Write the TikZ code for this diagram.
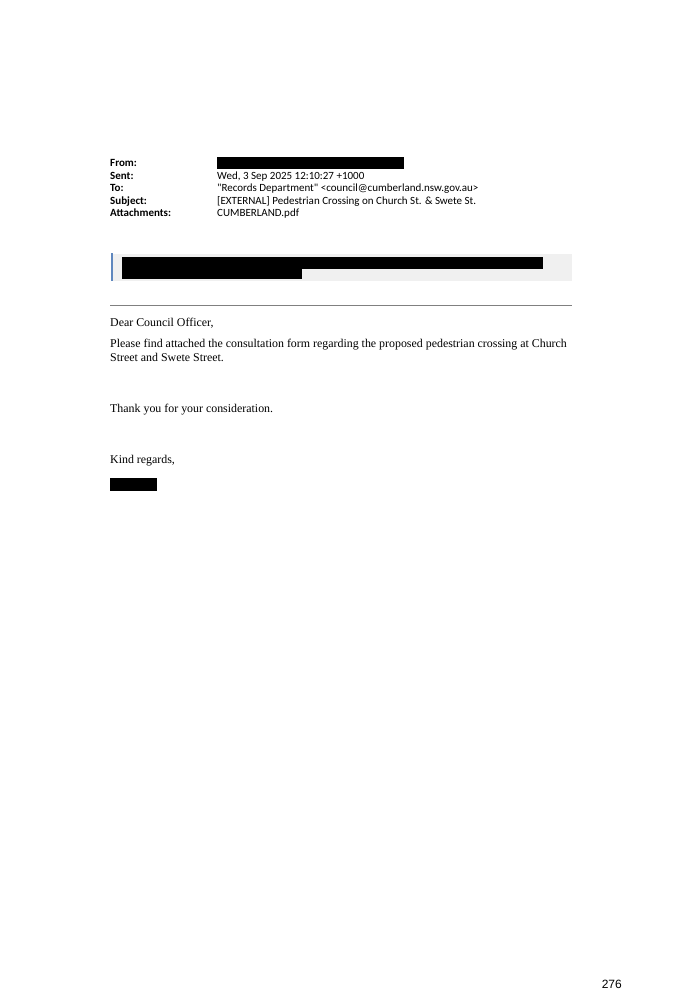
\documentclass[tikz,border=0pt]{standalone}
\usepackage{fontspec}
\setmainfont{Liberation Serif}
\newfontfamily\hdrfont{Carlito}
\newfontfamily\pgfont{Liberation Sans}
\definecolor{quotebar}{RGB}{95,135,190}
\begin{document}
\begin{tikzpicture}[x=1pt,y=-1pt,
    hdr/.style={anchor=base west,inner sep=0pt,font=\hdrfont\fontsize{11}{12}\selectfont},
    hdrkey/.style={hdr,font=\hdrfont\bfseries\fontsize{11}{12}\selectfont},
    body/.style={anchor=base west,inner sep=0pt,font=\fontsize{11.9}{14}\selectfont},
    redact/.style={fill=black}]
  \useasboundingbox (0,0) rectangle (682,989);
  % header
  \node[hdrkey] (from) at (110,166) {From:};
  \node[hdrkey] (sent) at (110,179) {Sent:};
  \node[hdrkey] (to) at (110,191.5) {To:};
  \node[hdrkey] (subj) at (110,204) {Subject:};
  \node[hdrkey] (att) at (110,216.5) {Attachments:};
  \fill[redact] (217,157) rectangle (404,169);
  \node[hdr] (sentval) at (217,179) {Wed, 3 Sep 2025 12:10:27 +1000};
  \node[hdr] (toval) at (217,191.5) {"Records Department" <council@cumberland.nsw.gov.au>};
  \node[hdr] (subjval) at (217,204) {[EXTERNAL] Pedestrian Crossing on Church St. \& Swete St.};
  \node[hdr] (attval) at (217,216.5) {CUMBERLAND.pdf};
  % banner
  \fill[black!6] (113,254) rectangle (572,281);
  \fill[quotebar] (110.5,253) rectangle (113,281);
  \fill[redact] (122,257) rectangle (543,269);
  \fill[redact] (122,268) rectangle (302,279);
  \draw[gray,line width=0.7pt] (110,305.5) -- (572,305.5);
  % body
  \node[body] (dear) at (110,326) {Dear Council Officer,};
  \node[body] (para1) at (110,347) {Please find attached the consultation form regarding the proposed pedestrian crossing at Church};
  \node[body] (para2) at (110,361) {Street and Swete Street.};
  \node[body] (thanks) at (110,412) {Thank you for your consideration.};
  \node[body] (regards) at (110,463) {Kind regards,};
  \fill[redact] (110,478) rectangle (157,491);
  \node[anchor=base east,inner sep=0pt,font=\pgfont\fontsize{12}{14}\selectfont] (page) at (622,988) {276};
\end{tikzpicture}
\end{document}
